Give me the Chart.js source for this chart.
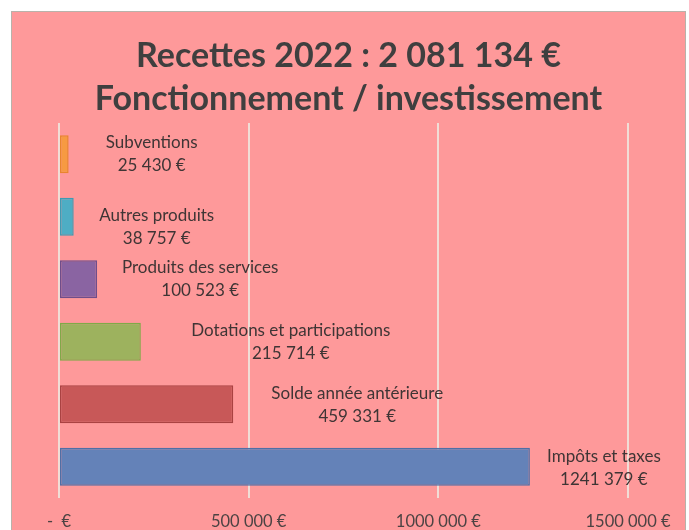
<!DOCTYPE html>
<html>
<head>
<meta charset="utf-8">
<script src="https://cdn.jsdelivr.net/npm/chart.js@4/dist/chart.umd.min.js"></script>
<style>
  html, body { margin: 0; padding: 0; background: #ffffff; }
  #frame { position: absolute; left: 11px; top: 11px; width: 673px; height: 519px;
           border-left: 1px solid #b9b2aa; border-top: 1px solid #b9b2aa; border-right: 1px solid #b9b2aa;
           background: #fe999a; }
  canvas { display: block; }
</style>
</head>
<body>
<div id="frame"><canvas id="c" width="673" height="519"></canvas></div>
<script>
const titleLines = ['Recettes 2022 : 2 081 134 €', 'Fonctionnement / investissement'];
const categories = ['Subventions', 'Autres produits', 'Produits des services',
  'Dotations et participations', 'Solde année antérieure', 'Impôts et taxes'];
const values = [25430, 38757, 100523, 215714, 459331, 1241379];
const xTickValues = [0, 500000, 1000000, 1500000];

const fillColors = ['#f79a42', '#4eadc4', '#8a64a2', '#9db25e', '#c85858', '#6482b8'];
const borderColors = ['#e8852e', '#3d9bb3', '#6f4d8a', '#7faa48', '#aa4242', '#4f6fa6'];

function euro(v) {
  if (v === 0) return '-  €';
  const s = String(Math.round(v));
  if (s.length <= 3) return s + ' €';
  return s.slice(0, s.length - 3) + ' ' + s.slice(s.length - 3) + ' €';
}

const labelPlugin = {
  id: 'barLabels',
  afterDatasetsDraw(chart, args, opts) {
    const ctx = chart.ctx;
    const meta = chart.getDatasetMeta(0);
    ctx.save();
    ctx.font = opts.font;
    ctx.fillStyle = opts.color;
    ctx.textAlign = 'center';
    ctx.textBaseline = 'middle';
    meta.data.forEach((bar, i) => {
      const cx = bar.x + opts.dx[i];
      const cy = bar.y + opts.dy[i];
      ctx.fillText(categories[i], cx, cy - opts.gap / 2);
      ctx.fillText(euro(values[i]), cx, cy + opts.gap / 2);
    });
    ctx.restore();
  }
};

new Chart(document.getElementById('c'), {
  type: 'bar',
  data: {
    labels: categories,
    datasets: [{
      data: values,
      backgroundColor: fillColors,
      borderColor: borderColors,
      borderWidth: 1.5,
      borderSkipped: false,
      categoryPercentage: 1,
      barPercentage: 0.61
    }]
  },
  options: {
    indexAxis: 'y',
    responsive: false,
    animation: false,
    layout: { padding: 0 },
    plugins: {
      legend: { display: false },
      tooltip: { enabled: false },
      title: {
        display: true,
        text: titleLines,
        color: '#3f3f3f',
        font: { family: 'Lato', size: 34, weight: 'bold', lineHeight: 1.265 },
        padding: { top: 23, bottom: 2 }
      },
      barLabels: {
        font: '17px Lato',
        color: '#3f3535',
        gap: 23,
        dx: [83, 83, 103, 150, 124, 74],
        dy: [0, 10, 0, 0, 1, 1]
      }
    },
    scales: {
      x: {
        type: 'linear',
        min: 0,
        max: 1500000,
        afterBuildTicks(scale) { scale.ticks = xTickValues.map(v => ({ value: v })); },
        afterFit(scale) { scale.height = 33; },
        grid: { color: '#f1ddd6', lineWidth: 2, drawTicks: false },
        border: { display: false },
        ticks: {
          padding: 14,
          color: '#4d4343',
          font: { family: 'Lato', size: 16.5 },
          maxRotation: 0,
          callback: (v) => euro(v)
        }
      },
      y: {
        type: 'category',
        position: 'left',
        grid: { display: false },
        border: { display: false },
        ticks: { display: false },
        afterFit(scale) { scale.width = 47; }
      },
      y2: {
        type: 'category',
        position: 'right',
        display: true,
        grid: { display: false },
        border: { display: false },
        ticks: { display: false },
        afterFit(scale) { scale.width = 57; }
      }
    }
  },
  plugins: [labelPlugin]
});
</script>
</body>
</html>
